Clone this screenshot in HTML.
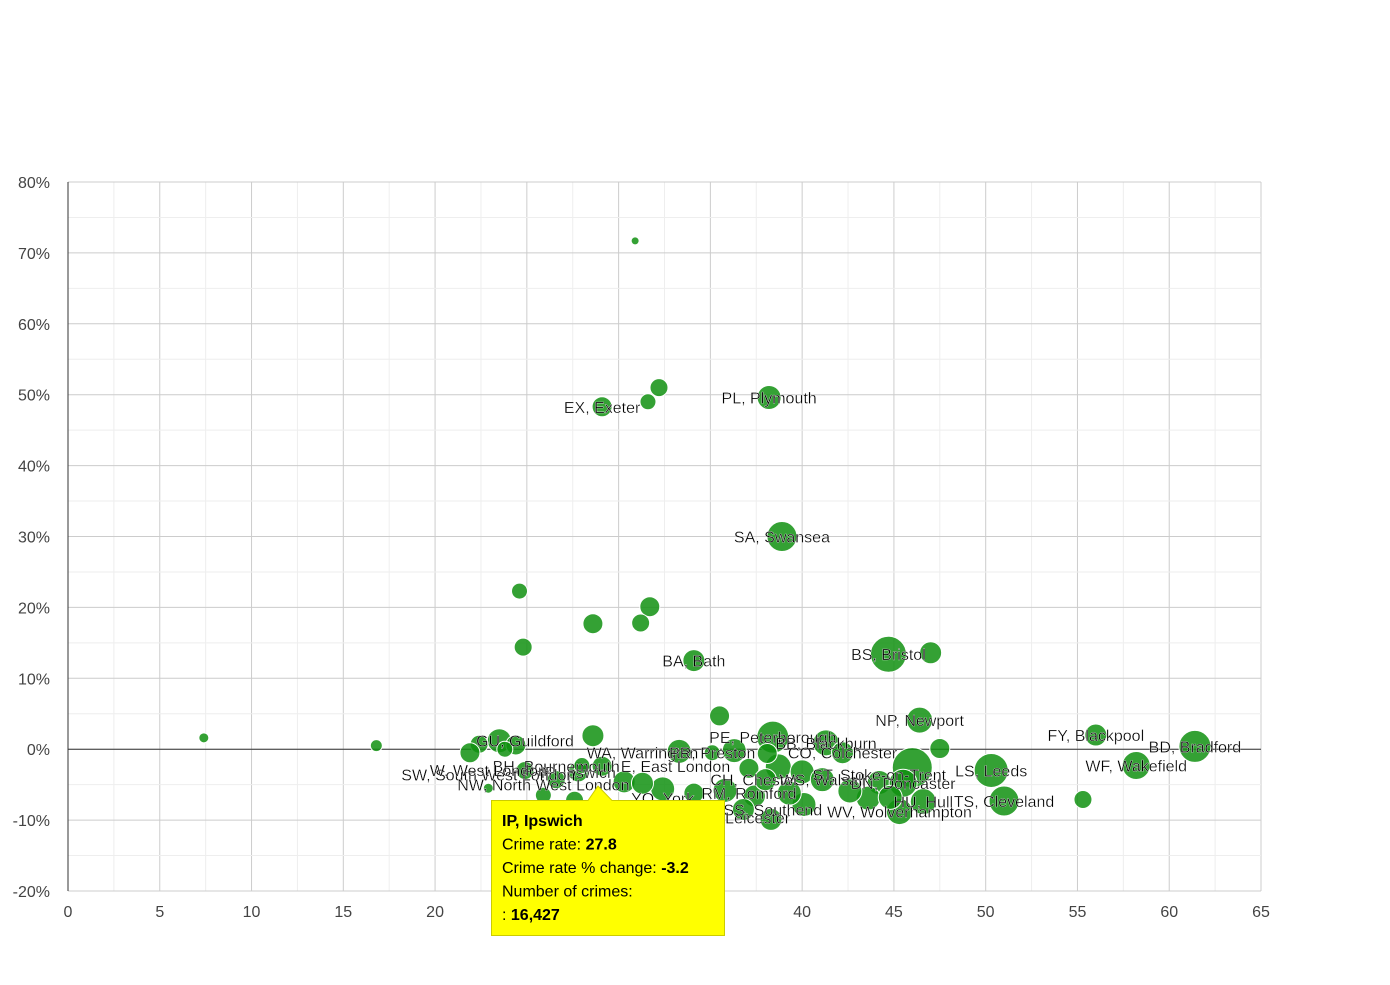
<!DOCTYPE html>
<html><head><meta charset="utf-8"><style>
body{margin:0;background:#fff;width:1390px;height:980px;overflow:hidden;font-family:"Liberation Sans",sans-serif}
svg text{font-family:"Liberation Sans",sans-serif}
</style></head><body>
<svg id="chart" width="1390" height="980" xmlns="http://www.w3.org/2000/svg">
<g id="grid"></g><g id="axes"></g><g id="bubbles"></g><g id="labels"></g><g id="tip"></g>
</svg>
<script>
const xs=[7.4,16.8,22.9,24.6,24.8,31.7,32.2,28.6,31.2,29.1,31.6,30.9,38.2,38.9,34.1,44.7,47,35.5,46.4,47.5,56,61.4,58.2,50.3,51,55.3,38.4,41.3,35.1,33.3,28.6,27.8,24.9,23.5,24.4,22.4,23.8,21.9,26.6,28,29.1,30.3,32.4,27.6,29,25.9,35.8,37.4,38.7,40,42.2,41.1,44.2,46,45.5,43.6,40.1,38.3,36.8,45.3,46.6,37.1,36.3,38,34.1,31.3,38.1,39.3,42.6,44.8];
const ys=[1.6,0.5,-5.5,22.3,14.4,20.1,51,17.7,17.8,48.3,49,71.7,49.6,30,12.5,13.4,13.6,4.7,4.1,0.1,2,0.4,-2.3,-3,-7.3,-7.1,1.7,0.9,-0.5,-0.3,1.9,-3.2,-3,1.2,0.6,0.7,0,-0.5,-4.3,-2.3,-2.4,-4.6,-5.6,-7.2,-7.7,-6.5,-5.8,-6.6,-2.5,-3.2,-0.5,-4.3,-4.7,-2.6,-4.8,-6.9,-7.8,-9.9,-8.5,-8.8,-7.4,-2.7,-0.2,-4.3,-6.2,-4.8,-0.6,-6.2,-5.9,-6.8];
const sizes=[5,6,5,8,9,10,9,10,9,10,8,4,12,15,11,18,11,10,13,10,11,16,14,17,15,9,16,13,8,12,11,10,9,12,10,9,8,10,9,8,10,11,12,9,10,8,12,11,13,12,11,12,12,20,14,12,12,11,11,13,13,10,12,11,10,11,10,12,12,12];
const labelText=["EX, Exeter","PL, Plymouth","SA, Swansea","BA, Bath","BS, Bristol","NP, Newport","FY, Blackpool","BD, Bradford","WF, Wakefield","LS, Leeds","TS, Cleveland","GU, Guildford","PE, Peterborough","BB, Blackburn","CO, Colchester","WS, Walsall","DN, Doncaster","WV, Wolverhampton","HU, Hull","IP, Ipswich","SW, South West London","BH, Bournemouth","NW, North West London","WA, Warrington","PR, Preston","CH, Chester","RM, Romford","SS, Southend","E, East London","ST, Stoke-on-Trent","W, West London","YO, York","TN, Tonbridge","LE, Leicester"];
const labelX=[29.1,38.2,38.9,34.1,44.7,46.4,56,61.4,58.2,50.3,51,24.9,38.4,41.3,42.2,41.1,45.5,45.3,46.6,27.8,22.9,26.6,25.9,31.3,35.1,37.4,37.1,38.4,33.1,44.2,22.9,32.4,30.1,36.8];
const labelY=[48.3,49.6,30,12.5,13.4,4.1,2,0.4,-2.3,-3,-7.3,1.2,1.7,0.9,-0.5,-4.3,-4.8,-8.8,-7.4,-3.2,-3.6,-2.4,-5,-0.5,-0.5,-4.3,-6.2,-8.5,-2.4,-3.6,-2.9,-6.9,-8.5,-9.6];
const xTicks=[0,5,10,15,20,25,30,35,40,45,50,55,60,65];
const yTicks=[-20,-10,0,10,20,30,40,50,60,70,80];
const X0=68,X1=1261,Y0=891,Y1=182;
const sx=v=>X0+(v-0)/65*(X1-X0);
const sy=v=>Y0-(v+20)/100*(Y0-Y1);
const NS="http://www.w3.org/2000/svg";
function mk(tag,parent,attrs){const e=document.createElementNS(NS,tag);for(const k in attrs)e.setAttribute(k,attrs[k]);parent.appendChild(e);return e;}
const grid=document.getElementById('grid'),axes=document.getElementById('axes');
for(let v=0;v<=65;v+=2.5){const l=mk('line',grid,{x1:sx(v),x2:sx(v),y1:Y1,y2:Y0,stroke:(v%5===0)?'#ccc':'#eee'});

}
for(let v=-20;v<=80;v+=5){const l=mk('line',grid,{x1:X0,x2:X1,y1:sy(v),y2:sy(v),stroke:(v%10===0)?'#ccc':'#eee'});

}
const za=mk('line',axes,{x1:X0,x2:X1,y1:sy(0),y2:sy(0),stroke:'#333'});


const la=mk('line',axes,{x1:X0,x2:X0,y1:Y1,y2:Y0,stroke:'#333'});


xTicks.forEach(v=>{const t=mk('text',axes,{x:sx(v),y:917,'text-anchor':'middle','font-size':16,fill:'#444'});t.textContent=v;

});
yTicks.forEach(v=>{const t=mk('text',axes,{x:50,y:sy(v)+6,'text-anchor':'end','font-size':16,fill:'#444'});t.textContent=v+'%';

});
const bg=document.getElementById('bubbles');
xs.forEach((v,i)=>{const c=mk('circle',bg,{cx:sx(v),cy:sy(ys[i]),r:sizes[i],fill:'#109010','fill-opacity':0.85,stroke:'#fff','stroke-width':1});

});
const lg=document.getElementById('labels');
labelText.forEach((s,i)=>{const t=mk('text',lg,{x:sx(labelX[i]),y:sy(labelY[i])+6,'text-anchor':'middle','font-size':16,fill:'#000',stroke:'#fff','stroke-width':0.3});t.textContent=s;

});
const tg=document.getElementById('tip');
const tp=mk('path',tg,{d:'M491.5 800.5 H588 L598 786 L612 800.5 H724.5 V935.5 H491.5 Z',fill:'#ffff00',stroke:'#cccc00'});


const lines=[["IP, Ipswich",""],["Crime rate: ","27.8"],["Crime rate % change: ","-3.2"],["Number of crimes:",""],[": ","16,427"]];
lines.forEach((l,i)=>{const t=mk('text',tg,{x:502,y:826+i*23.5,'font-size':16,fill:'#000'});


if(i===0){t.setAttribute('font-weight','bold');t.textContent=l[0];}
else{const a=mk('tspan',t,{});a.textContent=l[0];const b=mk('tspan',t,{'font-weight':'bold'});b.textContent=l[1];}});
</script>
</body></html>
